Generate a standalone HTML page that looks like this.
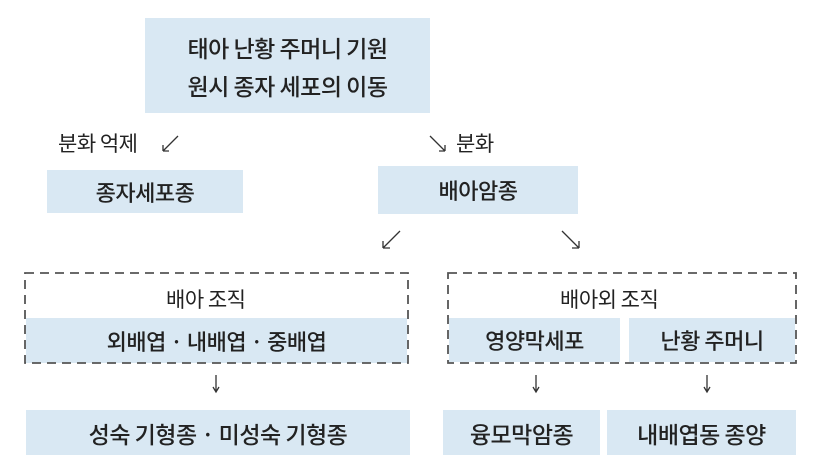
<!DOCTYPE html>
<html><head><meta charset="utf-8"><style>
body{margin:0;width:818px;height:468px;background:#fff;position:relative;overflow:hidden;font-family:"Noto Sans CJK KR",sans-serif;color:#222;font-weight:500}
.b{position:absolute;background:#d9e8f3;display:flex;align-items:center;justify-content:center;font-size:22px;letter-spacing:-0.5px}
.t{position:absolute;font-size:21px;white-space:nowrap;letter-spacing:-0.5px;font-weight:400}
svg{position:absolute;left:0;top:0}
</style></head><body>
<div class="b" style="left:145px;top:18px;width:285px;height:95px;flex-direction:column;line-height:38px;font-size:23px"><div>태아 난황 주머니 기원</div><div>원시 종자 세포의 이동</div></div>
<div class="t" style="left:58px;top:128px">분화 억제</div>
<div class="t" style="left:424px;top:128px;left:456px">분화</div>
<div class="b" style="left:47px;top:170px;width:196px;height:43px">종자세포종</div>
<div class="b" style="left:378px;top:166px;width:200px;height:48px">배아암종</div>
<div class="t" style="left:166px;top:284px">배아 조직</div>
<div class="b" style="left:26px;top:318px;width:381px;height:45px">외배엽 · 내배엽 · 중배엽</div>
<div class="t" style="left:560px;top:284px">배아외 조직</div>
<div class="b" style="left:449px;top:318px;width:171px;height:44px">영양막세포</div>
<div class="b" style="left:629px;top:318px;width:166px;height:44px">난황 주머니</div>
<div class="b" style="left:26px;top:410px;width:384px;height:45px;font-size:23px">성숙 기형종 · 미성숙 기형종</div>
<div class="b" style="left:443px;top:410px;width:157px;height:45px;font-size:23px">융모막암종</div>
<div class="b" style="left:607px;top:410px;width:189px;height:45px;font-size:23px">내배엽동 종양</div>
<svg width="818" height="468">
<g fill="none" stroke="#555" stroke-width="1.8" stroke-dasharray="9,6">
<rect x="25" y="273" width="383" height="90"/>
<rect x="448" y="273" width="348" height="90"/>
</g>
<g stroke="#333" stroke-width="1.3" fill="none">
<path d="M178 136 L163 151 M163 151 L163 145 M163 151 L169 151"/>
<path d="M430 136 L445 151 M445 151 L445 145 M445 151 L439 151"/>
<path d="M400 231 L383 248 M383 248 L383 241 M383 248 L390 248"/>
<path d="M562 231 L579 248 M579 248 L579 241 M579 248 L572 248"/>
<path d="M216 375 V392 M213 387 L216 392 L219 387"/>
<path d="M536 375 V392 M533 387 L536 392 L539 387"/>
<path d="M707 375 V392 M704 387 L707 392 L710 387"/>
</g>
</svg>
</body></html>
